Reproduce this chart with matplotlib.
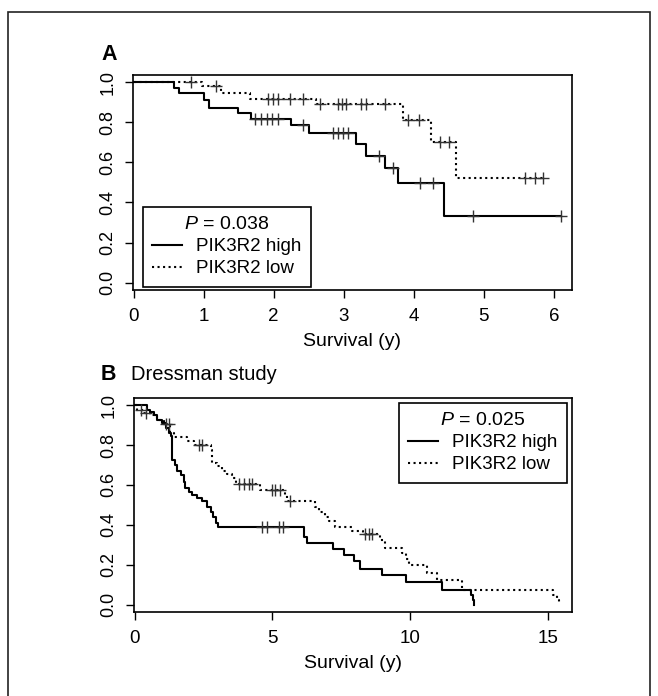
import numpy as np
import matplotlib
matplotlib.use('Agg')
import matplotlib.pyplot as plt
from matplotlib.patches import Rectangle
from matplotlib.lines import Line2D

plt.rcParams['font.family'] = ['Liberation Sans', 'DejaVu Sans']
plt.rcParams['mathtext.fontset'] = 'custom'
plt.rcParams['mathtext.rm'] = 'Liberation Sans'
plt.rcParams['mathtext.it'] = 'Liberation Sans:italic'

# panel A: step curves (time, survival) and censor times
a_high_t = [0, 0.58, 0.65, 1.00, 1.07, 1.49, 1.68, 2.25, 2.51, 3.17, 3.32, 3.59, 3.77, 4.43, 6.11]
a_high_s = [1.0, 0.972, 0.947, 0.910, 0.873, 0.848, 0.818, 0.785, 0.748, 0.690, 0.630, 0.574, 0.497, 0.333, 0.333]
a_high_cens = [1.73, 1.82, 1.90, 1.98, 2.06, 2.42, 2.85, 2.92, 2.99, 3.06, 3.51, 3.70, 4.09, 4.27, 4.84, 6.11]

a_low_t = [0, 0.97, 1.25, 1.66, 2.61, 3.85, 4.25, 4.60, 5.85]
a_low_s = [1.0, 0.98, 0.947, 0.917, 0.889, 0.813, 0.70, 0.52, 0.52]
a_low_cens = [0.82, 1.17, 1.92, 1.99, 2.06, 2.23, 2.42, 2.66, 2.92, 2.97, 3.03, 3.25, 3.32, 3.59,
              3.92, 4.08, 4.37, 4.50, 5.59, 5.73, 5.85]

# panel B: Dressman study
b_high_t = [0, 0.46, 0.58, 0.70, 0.82, 1.00, 1.13, 1.25, 1.33, 1.36, 1.48, 1.55, 1.67, 1.79, 1.85,
            1.97, 2.10, 2.28, 2.46, 2.64, 2.76, 2.85, 2.94, 3.02, 6.14, 6.26, 7.20, 7.59, 7.95, 8.19,
            9.00, 9.85, 11.16, 12.23, 12.27, 12.32]
b_high_s = [1.0, 0.978, 0.965, 0.953, 0.928, 0.911, 0.886, 0.861, 0.844, 0.727, 0.701, 0.668, 0.651,
            0.614, 0.584, 0.567, 0.55, 0.534, 0.517, 0.491, 0.466, 0.441, 0.411, 0.388, 0.34, 0.307,
            0.278, 0.248, 0.22, 0.181, 0.148, 0.112, 0.071, 0.048, 0.024, 0.0]
b_high_cens = [4.63, 4.81, 5.25, 5.38]

b_low_t = [0, 0.10, 0.34, 0.58, 0.82, 1.06, 1.30, 1.42, 1.91, 2.15, 2.76, 2.80, 3.00, 3.18, 3.36,
           3.54, 3.67, 4.57, 5.45, 5.55, 6.55, 6.70, 6.90, 7.05, 7.29, 7.90, 8.30, 8.90, 9.08, 9.70,
           9.85, 9.95, 10.61, 10.98, 11.88, 15.20, 15.32, 15.42]
b_low_s = [1.0, 0.978, 0.962, 0.95, 0.928, 0.906, 0.861, 0.839, 0.819, 0.802, 0.777, 0.71, 0.693,
           0.671, 0.654, 0.634, 0.604, 0.577, 0.55, 0.517, 0.491, 0.466, 0.438, 0.421, 0.391, 0.37,
           0.354, 0.324, 0.285, 0.26, 0.23, 0.198, 0.159, 0.122, 0.075, 0.047, 0.022, 0.005]
b_low_cens = [0.22, 0.40, 1.15, 1.25, 2.33, 2.45, 3.78, 3.96, 4.14, 4.27, 4.99, 5.11, 5.27, 5.66,
              8.38, 8.50, 8.62]


def km_curve(ax, t, s, cens, ls):
    ax.step(t, s, where='post', color='black', lw=1.5, ls=ls)
    t = np.array(t)
    s = np.array(s)
    idx = np.searchsorted(t, cens, side='right') - 1
    ax.plot(cens, s[idx], ls='none', marker='+', ms=8, mew=1.0, color='#333333')


def style_axes(ax, xticks, xlim):
    ax.set_xlim(xlim)
    ax.set_ylim(-0.037, 1.036)
    ax.set_xticks(xticks)
    ax.set_yticks([0, 0.2, 0.4, 0.6, 0.8, 1.0])
    ax.set_yticklabels(['0.0', '0.2', '0.4', '0.6', '0.8', '1.0'], rotation=90, va='center')
    ax.tick_params(direction='out', length=6, width=1, labelsize=13, pad=6)
    ax.tick_params(axis='x', labelsize=13.5, pad=7)
    for sp in ax.spines.values():
        sp.set_linewidth(1.2)
    ax.set_xlabel('Survival (y)', fontsize=14, labelpad=6)


def legend(ax, ptxt, **kw):
    handles = [Line2D([], [], color='black', lw=1.5, ls='-'),
               Line2D([], [], color='black', lw=1.5, ls=':')]
    leg = ax.legend(handles, ['PIK3R2 high', 'PIK3R2 low'], title=ptxt,
                    fontsize=13.5, title_fontsize=14, frameon=True, fancybox=False,
                    edgecolor='black', framealpha=1, borderaxespad=0, handlelength=1.6,
                    handletextpad=0.75, labelspacing=0.27, borderpad=0.5, **kw)
    leg.get_frame().set_linewidth(1.2)
    return leg


fig = plt.figure(figsize=(6.58, 6.96), dpi=100)

ax1 = fig.add_axes([0.2021, 0.5833, 0.6672, 0.3089])
km_curve(ax1, a_high_t, a_high_s, a_high_cens, '-')
km_curve(ax1, a_low_t, a_low_s, a_low_cens, ':')
style_axes(ax1, [0, 1, 2, 3, 4, 5, 6], (-0.01, 6.26))
legend(ax1, r'$\it{P}$ = 0.038', loc='lower left', bbox_to_anchor=(0.022, 0.015))

ax2 = fig.add_axes([0.2036, 0.1207, 0.6657, 0.3075])
km_curve(ax2, b_high_t, b_high_s, b_high_cens, '-')
km_curve(ax2, b_low_t, b_low_s, b_low_cens, ':')
style_axes(ax2, [0, 5, 10, 15], (-0.02, 15.88))
legend(ax2, r'$\it{P}$ = 0.025', loc='upper right', bbox_to_anchor=(0.989, 0.978))

# panel letters and titles
fig.text(101 / 658, 1 - 60 / 696, 'A', fontsize=15.5, fontweight='bold', va='baseline')
fig.text(101 / 658, 1 - 380 / 696, 'B', fontsize=15.5, fontweight='bold', va='baseline')
fig.text(131 / 658, 1 - 380 / 696, 'Dressman study', fontsize=14.5, va='baseline')

# outer frame
fig.patches.append(Rectangle((8 / 658, -0.05), 642 / 658, 1.05 - 12 / 696, transform=fig.transFigure,
                             fill=False, edgecolor='#222222', lw=1.2))

fig.savefig('out.png', dpi=100)
